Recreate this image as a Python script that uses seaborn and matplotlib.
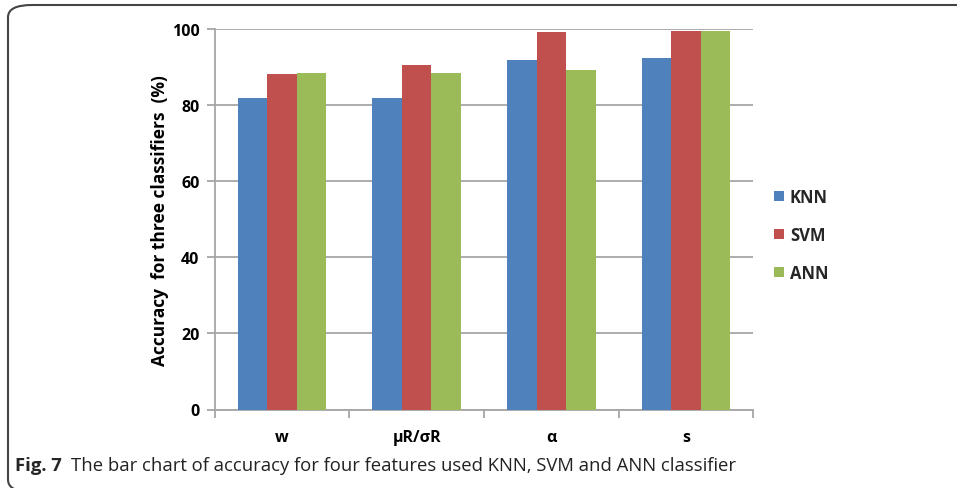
import matplotlib
matplotlib.use("Agg")
import matplotlib.pyplot as plt
from matplotlib.patches import FancyBboxPatch, Patch
from matplotlib.ticker import FixedLocator
import pandas as pd
import seaborn as sns

features = ["w", "μR/σR", "α", "s"]
classifiers = ["KNN", "SVM", "ANN"]
knn_acc = [81.8, 81.8, 91.9, 92.3]
svm_acc = [88.1, 90.6, 99.3, 99.4]
ann_acc = [88.5, 88.4, 89.3, 99.4]
colors = ["#4F81BD", "#C0504D", "#9BBB59"]
y_ticks = [0, 20, 40, 60, 80, 100]

rows = []
for name, vals in zip(classifiers, [knn_acc, svm_acc, ann_acc]):
    for f, v in zip(features, vals):
        rows.append({"feature": f, "classifier": name, "accuracy": v})
df = pd.DataFrame(rows)

sns.set_theme(style="white")
plt.rcParams["font.family"] = ["Open Sans", "DejaVu Sans"]

W, H = 957, 489
fig = plt.figure(figsize=(W / 100, H / 100), dpi=100)
ax = fig.add_axes([214.7 / W, 1 - 410.5 / H, (753.3 - 214.7) / W, (410.5 - 30) / H])

sns.barplot(data=df, x="feature", y="accuracy", hue="classifier",
            order=features, hue_order=classifiers, palette=colors,
            width=0.66, gap=0, saturation=1, legend=False, ax=ax,
            linewidth=0, zorder=3)

ax.set_ylim(0, 100)
ax.set_xlim(-0.5, len(features) - 0.5)
ax.set_yticks(y_ticks)
ax.yaxis.grid(True, color="#a6a6a6", linewidth=1.3, zorder=0)
ax.set_axisbelow(True)
ax.set_xlabel("")
ax.set_ylabel("Accuracy  for three classifiers  (%)", fontsize=12.5,
              fontweight="bold", color="black", labelpad=2)

for side in ["top", "right"]:
    ax.spines[side].set_visible(False)
for side in ["left", "bottom"]:
    ax.spines[side].set_color("#a6a6a6")
    ax.spines[side].set_linewidth(1.3)

# category boundary ticks on the x axis, labels at the centres
ax.xaxis.set_minor_locator(FixedLocator([i - 0.5 for i in range(len(features) + 1)]))
ax.tick_params(axis="x", which="major", length=0, pad=14, labelsize=11.5)
ax.tick_params(axis="x", which="minor", bottom=True, length=6, width=1.3, color="#a6a6a6")
ax.tick_params(axis="y", which="major", left=True, length=6, width=1.3, color="#a6a6a6",
               pad=5, labelsize=11.5)
for lbl in ax.get_xticklabels() + ax.get_yticklabels():
    lbl.set_fontweight("bold")
    lbl.set_color("black")

handles = [Patch(facecolor=c, edgecolor="none") for c in colors]
fig.legend(handles, classifiers, loc="center left",
           bbox_to_anchor=(759 / W, 1 - 236 / H), frameon=False,
           prop={"weight": "bold", "size": 12}, handlelength=0.6, handleheight=0.6,
           handletextpad=0.35, labelspacing=1.2)

# caption
cap_y = 1 - 466 / H
t1 = fig.text(15 / W, cap_y, "Fig. 7", fontsize=13.3, fontweight="bold",
              va="center", ha="left")
fig.canvas.draw()
bb = t1.get_window_extent()
fig.text((bb.x1 + 9) / W, cap_y,
         "The bar chart of accuracy for four features used KNN, SVM and ANN classifier",
         fontsize=13.3, va="center", ha="left", color="#222222")

# rounded frame around the figure
frame = FancyBboxPatch((8 / W, -4 / H), 1.2, (489 - 6 + 4) / H,
                       boxstyle="round,pad=0,rounding_size=0.025",
                       transform=fig.transFigure, fill=False,
                       edgecolor="#444444", linewidth=1.5, clip_on=False)
fig.patches.append(frame)

fig.savefig("out.png", dpi=100)
